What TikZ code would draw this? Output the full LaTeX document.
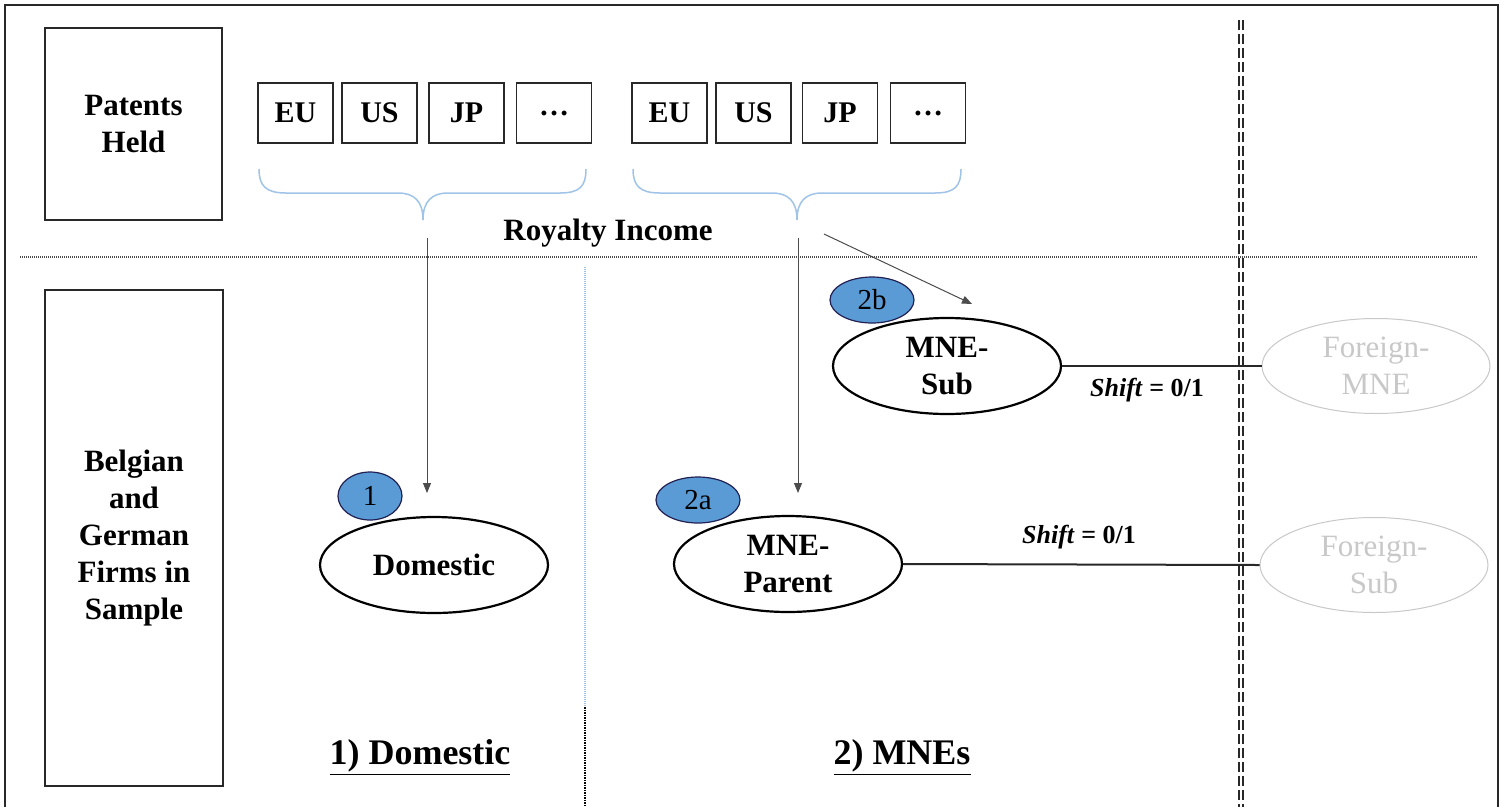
\documentclass[tikz,border=0pt]{standalone}
\usepackage{fontspec}
\setmainfont{Liberation Serif}
\usetikzlibrary{shapes.geometric,arrows.meta}
\definecolor{badgeblue}{RGB}{91,155,213}
\definecolor{bracecol}{RGB}{160,196,232}
\definecolor{ghost}{RGB}{200,200,200}
\definecolor{dk}{RGB}{40,40,40}
\tikzset{
  box/.style={draw=dk, line width=1.8pt, inner sep=0pt, align=center,
    font=\fontsize{31}{37}\selectfont\bfseries},
  cbox/.style={box, minimum width=75pt, minimum height=60pt, font=\fontsize{30}{36}\selectfont\bfseries},
  firm/.style={ellipse, draw=black, line width=2.2pt, inner sep=0pt, align=center,
    minimum width=228pt, minimum height=96pt, font=\fontsize{31}{37}\selectfont\bfseries},
  foreign/.style={ellipse, draw=ghost, line width=1pt, inner sep=0pt, align=center, text=ghost,
    minimum width=228pt, minimum height=95pt, font=\fontsize{31}{37}\selectfont},
  badge/.style={ellipse, draw=dk!80!blue, line width=1.2pt, fill=badgeblue, inner sep=0pt,
    font=\fontsize{29}{32}\selectfont},
  lbl/.style={inner sep=0pt, font=\fontsize{31}{37}\selectfont\bfseries},
  shiftlbl/.style={inner sep=0pt, font=\fontsize{26}{30}\selectfont\bfseries},
  section/.style={inner sep=0pt, font=\fontsize{36}{40}\selectfont\bfseries},
  arr/.style={draw=black!70, line width=1pt, -{Triangle[length=10pt,width=8pt]}},
  link/.style={draw=dk, line width=2pt},
  brace/.style={draw=bracecol, line width=1.5pt},
}
\begin{document}
\begin{tikzpicture}[x=1pt,y=-1pt]
\useasboundingbox (0,0) rectangle (1504,807);
\fill[white] (0,0) rectangle (1504,807);
% outer frame
\draw[dk, line width=2pt] (5,807) -- (5,5) -- (1498,5) -- (1498,807);
% separators
\draw[black!70, line width=1.2pt, dash pattern=on 1pt off 1pt] (20,257) -- (1478,257);
\draw[bracecol, line width=1.2pt, dash pattern=on 1pt off 1pt] (585,267) -- (585,707);
\draw[black, line width=1.2pt, dash pattern=on 1.5pt off 1pt] (585,707) -- (585,807);
\draw[dk, line width=1.8pt, double=white, double distance=2pt, dash pattern=on 10pt off 4pt] (1241,20) -- (1241,807);

% left boxes
\node[box, minimum width=177pt, minimum height=192pt] (ph) at (133.5,124) {Patents\\Held};
\node[box, minimum width=178pt, minimum height=496pt] (bg) at (134,538) {Belgian\\and\\German\\Firms in\\Sample};

% country boxes
\node[cbox] (eu1) at (295.5,113) {EU};
\node[cbox] (us1) at (379.5,113) {US};
\node[cbox] (jp1) at (466.5,113) {JP};
\node[cbox] (dt1) at (554,113) {…};
\node[cbox] (eu2) at (669.5,113) {EU};
\node[cbox] (us2) at (753.5,113) {US};
\node[cbox] (jp2) at (840,113) {JP};
\node[cbox] (dt2) at (928,113) {…};

% braces
\draw[brace] (259,169) .. controls (259,186) and (266,193) .. (286,193) -- (398,193)
  .. controls (414,193) and (423,201) .. (423,220);
\draw[brace] (423,220) .. controls (423,201) and (432,193) .. (448,193) -- (560,193)
  .. controls (580,193) and (586,186) .. (586,169);
\draw[brace] (633,169) .. controls (633,186) and (640,193) .. (660,193) -- (772,193)
  .. controls (788,193) and (797,201) .. (797,220);
\draw[brace] (797,220) .. controls (797,201) and (806,193) .. (822,193) -- (935,193)
  .. controls (955,193) and (961,186) .. (961,169);

\node[lbl] (roy) at (608,233) {Royalty Income};

% firms
\node[firm] (dom) at (434,565) {Domestic};
\node[firm] (par) at (788,564) {MNE-\\Parent};
\node[firm] (sub) at (947,366) {MNE-\\Sub};
\node[foreign] (fmne) at (1376,366) {Foreign-\\MNE};
\node[foreign] (fsub) at (1374,565) {Foreign-\\Sub};

% badges
\node[badge, minimum width=64pt, minimum height=48pt] (b1) at (370,496) {1};
\node[badge, minimum width=84pt, minimum height=46pt] (b2a) at (698,500) {2a};
\node[badge, minimum width=84pt, minimum height=46pt] (b2b) at (872,300) {2b};

% arrows
\coordinate (s1) at (427,238);
\coordinate (e1) at (427,493);
\coordinate (s2) at (798,238);
\coordinate (e2) at (798,493);
\coordinate (s3) at (824,234);
\coordinate (e3) at (972,304);
\draw[arr] (s1) -- (e1);
\draw[arr] (s2) -- (e2);
\draw[arr] (s3) -- (e3);

% links
\draw[link] (sub.east) -- (fmne.west);
\draw[link] (par.east) -- (fsub.west);
\node[shiftlbl] (sh1) at (1147,390) {\textit{Shift} = 0/1};
\node[shiftlbl] (sh2) at (1079,537) {\textit{Shift} = 0/1};

% section labels
\node[section] (sec1) at (420,757) {\underline{1) Domestic}};
\node[section] (sec2) at (902,757) {\underline{2) MNEs}};
\end{tikzpicture}
\end{document}
